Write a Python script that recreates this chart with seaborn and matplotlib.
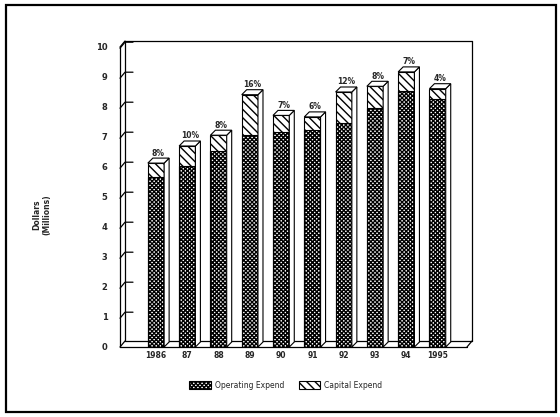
import numpy as np
import pandas as pd
import matplotlib
matplotlib.use('Agg')
import matplotlib.pyplot as plt
import matplotlib.transforms as mtransforms
from matplotlib.patches import Polygon, Patch, Rectangle
import seaborn as sns

years = ['1986', '87', '88', '89', '90', '91', '92', '93', '94', '1995']
operating = [5.67, 6.03, 6.53, 7.06, 7.17, 7.22, 7.47, 7.98, 8.53, 8.28]
capital = [0.46, 0.67, 0.53, 1.35, 0.55, 0.45, 1.03, 0.71, 0.64, 0.33]
pct_labels = ['8%', '10%', '8%', '16%', '7%', '6%', '12%', '8%', '7%', '4%']
y_ticks = [0, 1, 2, 3, 4, 5, 6, 7, 8, 9, 10]

df = pd.DataFrame({'year': years, 'operating': operating, 'capital': capital})
df['total'] = df['operating'] + df['capital']

sns.set_style('white')
plt.rcParams['font.family'] = ['DejaVu Sans']
plt.rcParams['hatch.linewidth'] = 1.0

op_hatch = 'xxxxxxxx'
cap_hatch = '\\\\\\\\'

fig = plt.figure(figsize=(5.6, 4.17), dpi=100)
ax = fig.add_axes([120 / 560, 70 / 417, 347 / 560, 300 / 417])

# stacked: total (capital hatch) first, operating on top of it
sns.barplot(data=df, x='year', y='total', color='white', edgecolor='black',
            linewidth=0.8, hatch=cap_hatch, width=0.52, ax=ax, zorder=3)
sns.barplot(data=df, x='year', y='operating', color='white', edgecolor='black',
            linewidth=0.8, hatch=op_hatch, width=0.52, ax=ax, zorder=4)

xmin, xmax = -1.15, 9.94
ax.set_xlim(xmin, xmax)
ax.set_ylim(0, 10)
for s in ax.spines.values():
    s.set_visible(False)
ax.set_xlabel('')
ax.set_ylabel('')
ax.set_yticks(y_ticks)
ax.tick_params(axis='y', length=0, pad=9, labelsize=6)
ax.tick_params(axis='x', length=0, pad=3, labelsize=5.5)
for lab in ax.get_xticklabels() + ax.get_yticklabels():
    lab.set_fontweight('bold')

# depth of the fake 3d look, in pixels
dpx, dpy = 5, 6
back = mtransforms.offset_copy(ax.transData, fig=fig, x=dpx, y=dpy, units='dots')
lw = 0.9
kw = dict(color='black', lw=lw, clip_on=False, zorder=2)

# back wall + left wall + floor
ax.plot([xmin, xmax], [10, 10], transform=back, **kw)
ax.plot([xmax, xmax], [0, 10], transform=back, **kw)
ax.plot([xmin, xmin], [0, 10], transform=back, **kw)
ax.plot([xmin, xmin], [0, 10], **kw)
ax.plot([xmin, xmax], [0, 0], **kw)
ax.plot([xmin, xmax], [0, 0], transform=back, **kw)
fig.canvas.draw()
bb = ax.get_window_extent()
ux = dpx * (xmax - xmin) / bb.width
uy = dpy * 10 / bb.height
ax.plot([xmin, xmin + ux], [10, 10 + uy], **kw)
ax.plot([xmin, xmin + ux], [0, uy], **kw)
ax.plot([xmax, xmax + ux], [0, uy], **kw)
for t in y_ticks[1:]:
    ax.plot([xmin, xmin + ux, xmin + 2.6 * ux], [t - uy * 0.2, t + uy * 0.8, t + uy * 0.8], **kw)

# side and top faces of bars
bx = 5 * (xmax - xmin) / bb.width
by = 5 * 10 / bb.height
tops = df['total'].tolist()
for i, p in enumerate(ax.patches[:len(years)]):
    x0 = p.get_x()
    x1 = x0 + p.get_width()
    h = tops[i]
    side = Polygon([[x1, 0], [x1 + bx, by], [x1 + bx, h + by], [x1, h]],
                   closed=True, facecolor='white', edgecolor='black', lw=0.8, zorder=5)
    top = Polygon([[x0, h], [x0 + bx, h + by], [x1 + bx, h + by], [x1, h]],
                  closed=True, facecolor='white', edgecolor='black', lw=0.8, zorder=5)
    ax.add_patch(side)
    ax.add_patch(top)
    ax.text((x0 + x1) / 2 + bx / 2, h + by + 0.02, pct_labels[i], ha='center',
            va='bottom', fontsize=5.5, fontweight='bold', zorder=6)

fig.text(42 / 560, 1 - 215 / 417, 'Dollars\n(Millions)', rotation=90, ha='center',
         va='center', fontsize=5.5, fontweight='bold', linespacing=1.1)

handles = [Patch(facecolor='white', edgecolor='black', hatch=op_hatch, lw=0.8),
           Patch(facecolor='white', edgecolor='black', hatch=cap_hatch, lw=0.8)]
fig.legend(handles, ['Operating Expend', 'Capital Expend'], loc='center',
           bbox_to_anchor=(286 / 560, 1 - 385 / 417), ncol=2, frameon=False,
           fontsize=5.5, handlelength=2.8, handleheight=1.4, columnspacing=1.8,
           handletextpad=0.6)

fig.patches.append(Rectangle((6 / 560, 5 / 417), 550 / 560, 407 / 417,
                             transform=fig.transFigure, fill=False,
                             edgecolor='black', lw=1.6))

fig.savefig('out.png', dpi=100)
